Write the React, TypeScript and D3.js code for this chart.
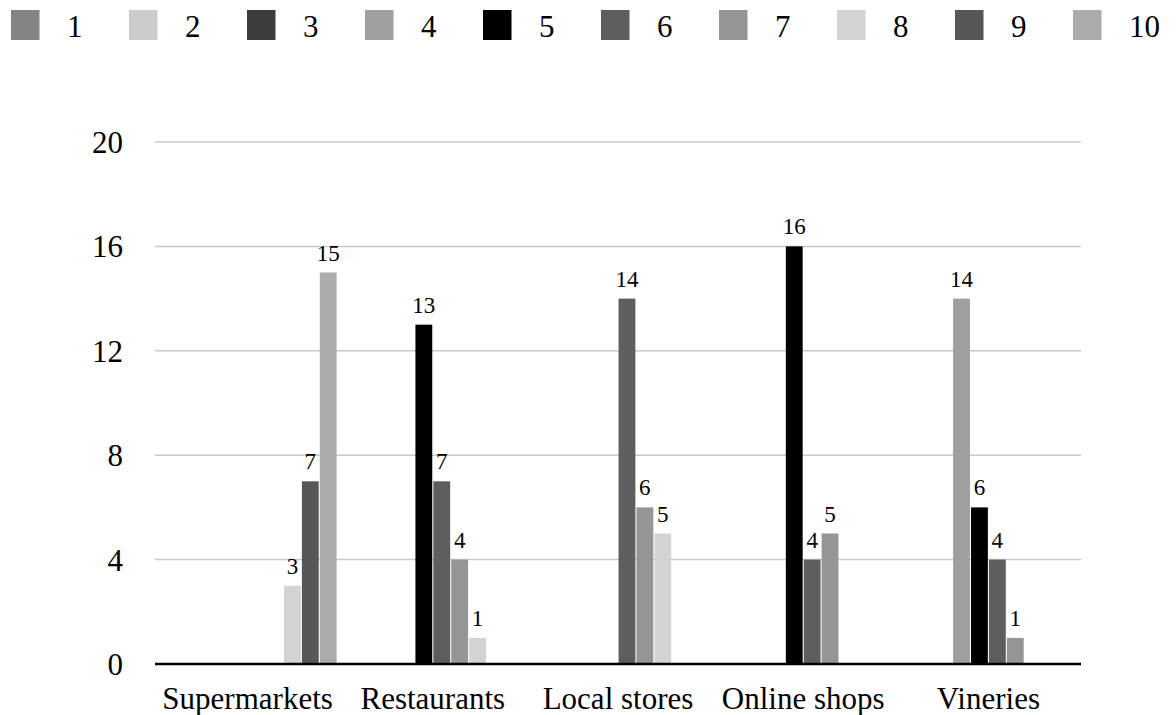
import React from "react";
import * as d3 from "d3";

// Sales channels along the x axis
const categories = ["Supermarkets", "Restaurants", "Local stores", "Online shops", "Vineries"];

// Rating series 1..10, one value per channel
const seriesNames = ["1", "2", "3", "4", "5", "6", "7", "8", "9", "10"];
const s1 = [0, 0, 0, 0, 0];
const s2 = [0, 0, 0, 0, 0];
const s3 = [0, 0, 0, 0, 0];
const s4 = [0, 0, 0, 0, 14];
const s5 = [0, 13, 0, 16, 6];
const s6 = [0, 7, 14, 4, 4];
const s7 = [0, 4, 6, 5, 1];
const s8 = [3, 1, 5, 0, 0];
const s9 = [7, 0, 0, 0, 0];
const s10 = [15, 0, 0, 0, 0];
const seriesValues = [s1, s2, s3, s4, s5, s6, s7, s8, s9, s10];

const seriesColors = [
  "#838383", "#cccccc", "#3d3d3d", "#9f9f9f", "#000000",
  "#5e5e5e", "#959595", "#d3d3d3", "#575757", "#ababab",
];

const yTicks = [0, 4, 8, 12, 16, 20];

const W = 1176;
const H = 715;
const FONT = "Liberation Serif, DejaVu Serif, serif";
const textStyle = { fontFamily: FONT };

export default function App() {
  const left = 155;
  const right = 1081;
  const top = 142;
  const bottom = 664;

  const x0 = d3.scaleBand<string>().domain(categories).range([left, right]).padding(0);
  const x1 = d3
    .scaleBand<string>()
    .domain(seriesNames)
    .range([0, x0.bandwidth()])
    .paddingInner(0.06)
    .paddingOuter(0.2);
  const y = d3.scaleLinear().domain([0, 20]).range([bottom, top]);

  const bars: React.ReactNode[] = [];
  const labels: React.ReactNode[] = [];
  seriesValues.forEach((vals, si) => {
    vals.forEach((v, ci) => {
      if (v <= 0) return;
      const bx = (x0(categories[ci]) as number) + (x1(seriesNames[si]) as number);
      const bw = x1.bandwidth();
      bars.push(
        <rect
          key={`b-${si}-${ci}`}
          x={bx}
          y={y(v)}
          width={bw}
          height={y(0) - y(v)}
          fill={seriesColors[si]}
        />
      );
      labels.push(
        <text
          key={`l-${si}-${ci}`}
          x={bx + bw / 2}
          y={y(v) - 12}
          textAnchor="middle"
          fontSize={23}
          fill="#000"
          style={textStyle}
        >
          {v}
        </text>
      );
    });
  });

  return (
    <svg
      width={W}
      height={H}
      style={{ position: "absolute", left: 0, top: 0, display: "block", background: "#fff" }}
    >
      {/* legend */}
      {seriesNames.map((name, i) => {
        const lx = 11 + i * 118;
        return (
          <g key={`lg-${name}`}>
            <rect x={lx} y={10} width={28.5} height={30} fill={seriesColors[i]} />
            <text x={lx + 56} y={37} fontSize={31} fill="#000" style={textStyle}>
              {name}
            </text>
          </g>
        );
      })}

      {/* gridlines and y tick labels */}
      {yTicks.map((t) => (
        <g key={`t-${t}`}>
          {t !== 0 && (
            <line x1={left} x2={right} y1={y(t)} y2={y(t)} stroke="#c8c8c8" strokeWidth={1.5} />
          )}
          <text x={123} y={y(t) + 11} textAnchor="end" fontSize={31} fill="#000" style={textStyle}>
            {t}
          </text>
        </g>
      ))}

      {bars}
      {labels}

      {/* baseline */}
      <line x1={left} x2={right} y1={y(0)} y2={y(0)} stroke="#000" strokeWidth={2.5} />

      {/* category labels */}
      {categories.map((c) => (
        <text
          key={`c-${c}`}
          x={(x0(c) as number) + x0.bandwidth() / 2}
          y={709}
          textAnchor="middle"
          fontSize={31}
          fill="#000"
          style={textStyle}
        >
          {c}
        </text>
      ))}
    </svg>
  );
}
